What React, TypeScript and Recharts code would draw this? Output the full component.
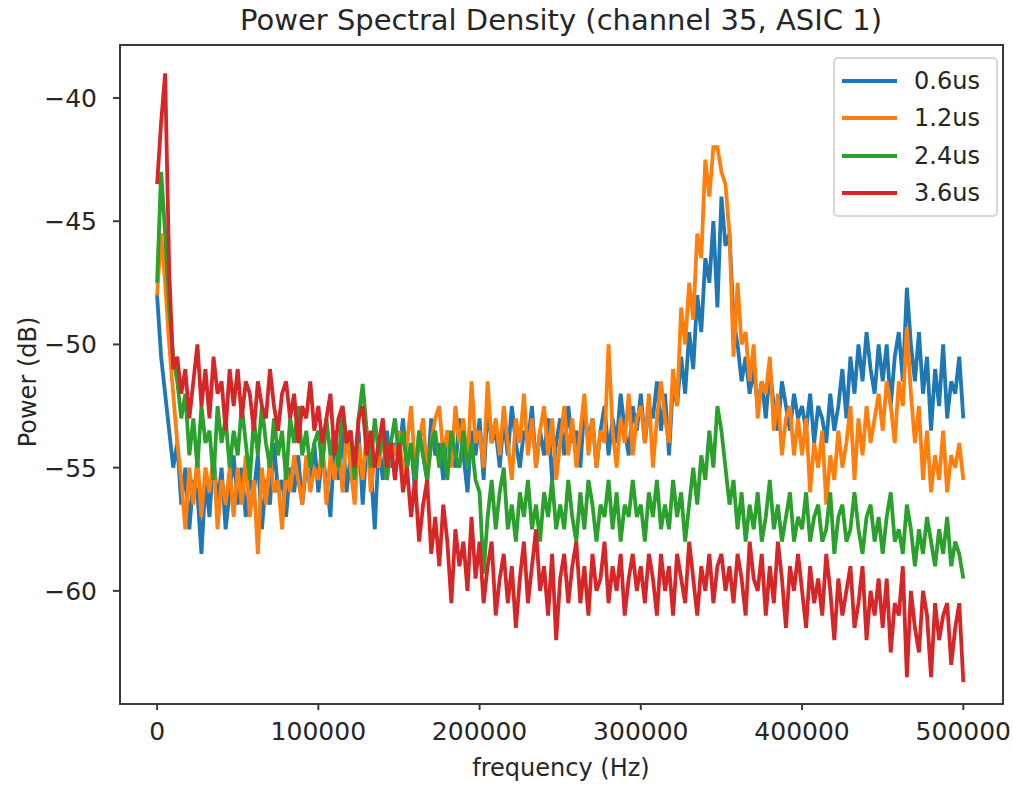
import React from 'react';
import { LineChart, Line, XAxis, YAxis } from 'recharts';

const FREQ_STEP = 2500;

const xTicks = [0, 100000, 200000, 300000, 400000, 500000];
const yTicks = [-60, -55, -50, -45, -40];
const seriesNames = ['0.6us', '1.2us', '2.4us', '3.6us'];
const seriesColors = ['#1f77b4', '#ff7f0e', '#2ca02c', '#d62728'];

const blue = [
  -48, -50.5, -52, -53.5, -55, -54, -56.5, -55, -57.5, -55.5, -56, -58.5, -55.5, -57, -54.5, -56.5, -55, -57.5, -56, -54.5,
  -56.5, -55, -57, -55.5, -56, -54.5, -57.5, -55.5, -56.5, -54, -56, -55.5, -57, -55, -56, -54.5, -56.5, -55, -55.5, -54,
  -56, -54.5, -55.5, -57, -54, -55.5, -53.5, -56, -54.5, -55, -53.5, -56.5, -54, -55, -57.5, -54, -55.5, -53.5, -55, -54,
  -54.5, -53, -55, -54, -56, -53.5, -54.5, -55.5, -53, -54.5, -54, -55.5, -53.5, -54, -55, -53, -54.5, -56, -53.5, -54.5,
  -53, -55.5, -52.5, -54, -53.5, -55, -53, -54.5, -52.5, -54, -55, -53.5, -54, -52.5, -55, -53.5, -54.5, -53, -55.5, -54,
  -53, -54.5, -52.5, -54, -53.5, -55, -52.5, -54, -53, -55, -53.5, -52.5, -54.5, -53, -54, -52, -53.5, -54.5, -52.5, -53.5,
  -52, -54, -52.5, -53, -51.5, -53.5, -52, -54.5, -51.5, -52.5, -50.5, -52, -49.5, -51, -48, -49.5, -46.5, -47.5, -45, -48.5,
  -44, -46, -45.5, -49, -50, -51.5, -50.5, -52, -51, -52.5, -51.5, -53, -51, -52.5, -53.5, -51.5, -52.5, -53.5, -52, -53,
  -52.5, -53.5, -52, -54, -52.5, -53, -54, -52, -53.5, -52.5, -51, -53, -50.5, -52, -50, -51.5, -49.5, -51, -52, -50,
  -51.5, -50, -52.5, -50.5, -49.5, -51.5, -47.7, -50, -51.5, -49.5, -52, -50.5, -53.5, -51, -52.5, -50, -53, -51.5, -52, -50.5,
  -53,
];

const orange = [
  -48, -45.5, -47.5, -50, -52, -54, -55.5, -57.5, -55, -56.5, -54.5, -57, -55, -56, -54.5, -57.5, -55.5, -56.5, -55, -57,
  -55, -56.5, -54.5, -57, -55.5, -58.5, -55, -56.5, -54.5, -56, -55.5, -57.5, -55, -56, -54.5, -55.5, -56.5, -54.5, -56, -55,
  -55.5, -54, -56.5, -54.5, -55.5, -54, -56, -53.5, -55, -56.5, -54, -55.5, -53.5, -56, -54.5, -55, -53.5, -55.5, -54, -54.5,
  -53.5, -55.5, -54, -52.5, -55, -54, -53, -55.5, -54, -53, -52.5, -54.5, -53.5, -55, -52.5, -54, -53, -55, -51.5, -54,
  -53.5, -55, -51.5, -54, -53, -54.5, -52.5, -54, -55.5, -53, -54, -52, -54.5, -53, -55, -53.5, -52.5, -54.5, -53, -55.5,
  -54, -52.5, -54.5, -53, -55, -53.5, -52, -54.5, -53, -55, -53.5, -54, -50, -53.5, -55, -53, -54, -52, -54.5, -53,
  -52.5, -54, -52, -55, -53, -51.5, -53, -54, -51, -52.5, -48.5, -50, -47.5, -49, -45.5, -46.5, -42.5, -44, -42, -42,
  -43, -43.5, -45.5, -50.5, -47.5, -50, -49.5, -51.5, -50, -53, -51.5, -52, -50.5, -53.5, -52, -54.5, -53, -52.5, -54.5, -53,
  -54.5, -53, -56, -54, -55, -53.5, -56.5, -54.5, -55.5, -53.5, -55, -54, -52.5, -55.5, -53, -54.5, -52.5, -54, -53, -52,
  -53.5, -51.5, -52.5, -54, -51.5, -52.5, -49.3, -52, -54, -52.5, -55.5, -53.5, -56, -54.5, -55.5, -53.5, -56, -54.5, -55, -54,
  -55.5,
];

const green = [
  -47.5, -43, -45.5, -48.5, -50.5, -51.5, -53, -52, -54.5, -53, -55, -52.5, -54, -53.5, -55.5, -52.5, -54, -53, -55, -53.5,
  -54.5, -52.5, -54, -55.5, -53, -54.5, -52.5, -54, -55, -53, -54.5, -53.5, -55.5, -53, -54, -52.5, -54.5, -53.5, -55, -54,
  -53.5, -55, -53, -54.5, -53.5, -55, -52.5, -54, -53.5, -55.5, -53, -51.6, -53.5, -55, -53, -54.5, -53.5, -55.5, -54, -53,
  -54.5, -53.5, -55, -54, -55.5, -53.5, -54.5, -55.5, -54, -53.5, -55, -54, -55.5, -53.5, -54.5, -55, -53.5, -55, -54, -55.5,
  -56, -59.3, -57, -55.5, -57.5, -56, -55, -57.5, -56.5, -58, -56, -57, -55.5, -57.5, -56.5, -58, -56, -57, -55.5, -57.5,
  -56.5, -57.5, -55.5, -57, -58, -56, -57.5, -55.5, -56.5, -58, -56.5, -57, -55.5, -57.5, -56, -58, -56.5, -57, -55.5, -57,
  -56.5, -58, -56, -57, -55.5, -57.5, -56.5, -57.5, -55.5, -57, -56, -58, -56.5, -55, -56.5, -54.5, -55.5, -53.5, -55, -52.5,
  -53.5, -55, -56.5, -55.5, -57.5, -56, -58, -56.5, -57.5, -56, -58, -57, -55.5, -57.5, -56.5, -58, -57, -56, -58, -57,
  -57.5, -56, -58, -57, -56.5, -58, -57.5, -56, -58.5, -57, -56.5, -58, -57.5, -56, -57.5, -58.5, -57, -56.5, -58, -57,
  -58.5, -57, -56, -58, -57.5, -58.5, -56.5, -57.5, -59, -57.5, -58.5, -57, -58, -59, -57.5, -58.5, -57, -59, -58, -58.5,
  -59.5,
];

const red = [
  -43.5, -41, -39, -47, -51, -50.5, -52, -51, -53, -51.5, -50, -52.5, -51, -53, -50.5, -52, -51.5, -53.5, -51, -52.5,
  -51, -53, -51.5, -52, -53.5, -51.5, -52.5, -53, -51, -52.5, -53.5, -52, -51.5, -53, -52, -54, -52.5, -53, -51.5, -53.5,
  -52.5, -54, -53, -52, -54.5, -53, -52.5, -54, -53.5, -55, -53, -52.5, -54.5, -53.5, -55, -54, -53, -55, -54, -55.5,
  -54, -56, -55, -57, -55.5, -58, -56.5, -55.5, -58.5, -57, -59, -56.5, -58, -60.5, -57.5, -59, -58, -60, -57, -59.5,
  -58, -60.5, -59, -58, -61, -59.5, -58.5, -60.5, -59, -61.5, -59.5, -58, -60.5, -59, -57.5, -60, -59, -61, -58.5, -62,
  -59.5, -58.5, -60.5, -59, -58, -60.5, -59, -61, -58.5, -60, -59.5, -58, -60.5, -59, -60, -58.5, -61, -59.5, -58.5, -60,
  -59, -60.5, -58.5, -59.5, -61, -58.5, -60, -59, -61, -58.5, -59.5, -60.5, -58, -59.5, -61, -59, -60, -58.5, -60.5, -59,
  -58.5, -60, -59, -60.5, -58.5, -59.5, -61, -58, -59.5, -60, -58.5, -61, -59, -60.5, -58, -59.5, -61.5, -59, -60, -58.5,
  -60, -61.5, -59, -60.5, -59.5, -61, -58.5, -60, -62, -59.5, -61, -60, -59, -61.5, -60.5, -59, -62, -60, -61, -59.5,
  -61.5, -59.5, -62.5, -60.5, -61, -59, -63.5, -60, -61.5, -62.5, -60, -61, -63.5, -60.5, -62, -61, -60.5, -63, -61.5, -60.5,
  -63.7,
];

const seriesValues = [blue, orange, green, red];

const data = blue.map((_, i) => ({
  f: i * FREQ_STEP,
  s0: blue[i],
  s1: orange[i],
  s2: green[i],
  s3: red[i],
}));

const FONT = '"DejaVu Sans", sans-serif';
const TEXT = '#262626';
const FRAME = '#3a3a3a';

const fmtY = (v: number) => (v < 0 ? '\u2212' + Math.abs(v) : String(v));

const LegendBox = () => (
  <div
    style={{
      position: 'absolute',
      left: 833,
      top: 57,
      width: 165,
      height: 160,
      border: '2px solid #d6d6d6',
      borderRadius: 5,
      background: 'rgba(255,255,255,0.85)',
      boxSizing: 'border-box',
      fontFamily: FONT,
      fontSize: 24,
      color: TEXT,
    }}
  >
    {seriesNames.map((n, i) => (
      <div
        key={n}
        style={{
          position: 'absolute',
          left: 7,
          top: 6 + i * 37.3,
          height: 32,
          display: 'flex',
          alignItems: 'center',
          whiteSpace: 'nowrap',
        }}
      >
        <svg width={56} height={8} style={{ display: 'block' }}>
          <line x1={0} y1={4} x2={55} y2={4} stroke={seriesColors[i]} strokeWidth={3.8} />
        </svg>
        <span style={{ marginLeft: 16 }}>{n}</span>
      </div>
    ))}
  </div>
);

export default function App() {
  return (
    <div style={{ position: 'absolute', left: 0, top: 0, width: 1013, height: 785, background: '#fff' }}>
      <LineChart
        width={1013}
        height={785}
        data={data}
        margin={{ top: 45, right: 11, bottom: 32, left: 50 }}
      >
        <XAxis
          dataKey="f"
          type="number"
          domain={[-23000, 524000]}
          ticks={xTicks}
          allowDataOverflow
          height={50}
          axisLine={false}
          tickLine={{ stroke: FRAME, strokeWidth: 2 }}
          tickSize={7}
          tick={{ fill: TEXT, fontSize: 25, fontFamily: FONT }}
          tickMargin={12}
        />
        <YAxis
          type="number"
          domain={[-64.55, -37.85]}
          ticks={yTicks}
          allowDataOverflow
          width={70}
          tickFormatter={fmtY}
          axisLine={false}
          tickLine={{ stroke: FRAME, strokeWidth: 2 }}
          tickSize={7}
          tick={{ fill: TEXT, fontSize: 25, fontFamily: FONT }}
          tickMargin={16}
        />
        {seriesValues.map((_, i) => (
          <Line
            key={i}
            type="linear"
            dataKey={'s' + i}
            name={seriesNames[i]}
            stroke={seriesColors[i]}
            strokeWidth={3.8}
            dot={false}
            activeDot={false}
            isAnimationActive={false}
          />
        ))}
      </LineChart>
      <div
        style={{
          position: 'absolute',
          left: 119,
          top: 44,
          width: 885,
          height: 661,
          border: '2.5px solid ' + FRAME,
          boxSizing: 'border-box',
          pointerEvents: 'none',
        }}
      />
      <LegendBox />
      <div
        style={{
          position: 'absolute',
          left: 120,
          width: 882,
          top: 3,
          textAlign: 'center',
          fontFamily: FONT,
          fontSize: 29,
          color: TEXT,
          whiteSpace: 'nowrap',
        }}
      >
        Power Spectral Density (channel 35, ASIC 1)
      </div>
      <div
        style={{
          position: 'absolute',
          left: 120,
          width: 882,
          top: 754,
          textAlign: 'center',
          fontFamily: FONT,
          fontSize: 24,
          color: TEXT,
        }}
      >
        frequency (Hz)
      </div>
      <div
        style={{
          position: 'absolute',
          left: 28,
          top: 382,
          transform: 'translate(-50%, -50%) rotate(-90deg)',
          fontFamily: FONT,
          fontSize: 24,
          color: TEXT,
          whiteSpace: 'nowrap',
        }}
      >
        Power (dB)
      </div>
    </div>
  );
}
